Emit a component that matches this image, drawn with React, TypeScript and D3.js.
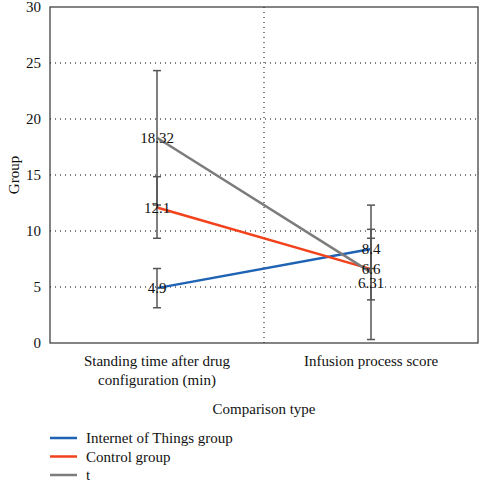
import React from "react";
import * as d3 from "d3";

const categories = ["Standing time after drug configuration (min)", "Infusion process score"];
const categoryLines = [["Standing time after drug", "configuration (min)"], ["Infusion process score"]];
const seriesNames = ["Internet of Things group", "Control group", "t"];
const seriesColors = ["#1f63b5", "#f2421c", "#7c7c7c"];
const iotValues = [4.9, 8.4];
const controlValues = [12.1, 6.6];
const tValues = [18.32, 6.31];
const iotErr = [1.75, 1.75];
const controlErr = [2.75, 2.75];
const tErr = [6, 6];
const valueLabels = [["4.9", "8.4"], ["12.1", "6.6"], ["18.32", "6.31"]];
const yTicks = [0, 5, 10, 15, 20, 25, 30];

const W = 479, H = 480;
const M = { left: 50, right: 478, top: 7, bottom: 343 };
const FONT = "Times New Roman, Liberation Serif, Tinos, DejaVu Serif, serif";

export default function App() {
  const x = d3.scaleBand<string>().domain(categories).range([M.left, M.right]);
  const y = d3.scaleLinear().domain([0, 30]).range([M.bottom, M.top]);
  const cx = (i: number) => (x(categories[i]) as number) + x.bandwidth() / 2;
  const series = [iotValues, controlValues, tValues];
  const errs = [iotErr, controlErr, tErr];
  const line = d3.line<number>().x((_, i) => cx(i)).y((d) => y(d));
  const divider = (x(categories[1]) as number);
  const labelDy = [[0, 0], [0, 0], [0, 10]];

  return (
    <svg width={W} height={H} style={{ position: "absolute", left: 0, top: 0, fontFamily: FONT }}>
      <rect width={W} height={H} fill="#fff" />
      {yTicks.filter((t) => t > 0 && t < 30).map((t) => (
        <line key={t} x1={M.left} x2={M.right} y1={y(t)} y2={y(t)} stroke="#000" strokeWidth={1} strokeDasharray="1 4" />
      ))}
      <line x1={divider} x2={divider} y1={M.top} y2={M.bottom} stroke="#000" strokeWidth={1} strokeDasharray="1 4" />
      <rect x={M.left} y={M.top} width={M.right - M.left} height={M.bottom - M.top} fill="none" stroke="#333" strokeWidth={1.2} />
      {yTicks.map((t) => (
        <text key={t} x={41} y={y(t)} dy="0.35em" textAnchor="end" fontSize={15} fill="#111">{t}</text>
      ))}
      <text transform={`translate(14,${(M.top + M.bottom) / 2}) rotate(-90)`} textAnchor="middle" dy="0.35em" fontSize={15} fill="#111">Group</text>
      {categoryLines.map((lines, i) => lines.map((l, j) => (
        <text key={i + "-" + j} x={cx(i)} y={361 + j * 19} dy="0.35em" textAnchor="middle" fontSize={15} fill="#111">{l}</text>
      )))}
      <text x={divider} y={409} dy="0.35em" textAnchor="middle" fontSize={15} fill="#111">Comparison type</text>
      {series.map((s, k) => (
        <path key={k} d={line(s) as string} fill="none" stroke={seriesColors[k]} strokeWidth={2.5} />
      ))}
      {series.map((s, k) => s.map((v, i) => {
        const x0 = cx(i);
        const hi = y(v + errs[k][i]);
        const lo = y(v - errs[k][i]);
        return (
          <g key={k + "-" + i} stroke="#555" strokeWidth={1.5}>
            <line x1={x0} x2={x0} y1={hi} y2={lo} />
            <line x1={x0 - 4} x2={x0 + 4} y1={hi} y2={hi} />
            <line x1={x0 - 4} x2={x0 + 4} y1={lo} y2={lo} />
          </g>
        );
      }))}
      {series.map((s, k) => s.map((v, i) => (
        <text key={"l" + k + "-" + i} x={cx(i)} y={y(v) + labelDy[k][i]} dy="0.35em" textAnchor="middle" fontSize={15} fill="#111">{valueLabels[k][i]}</text>
      )))}
      {seriesNames.map((n, k) => (
        <g key={n} transform={`translate(0,${438 + k * 18.5})`}>
          <line x1={50} x2={77} y1={0} y2={0} stroke={seriesColors[k]} strokeWidth={2.5} />
          <text x={86} y={0} dy="0.35em" fontSize={15} fill="#111">{n}</text>
        </g>
      ))}
    </svg>
  );
}
